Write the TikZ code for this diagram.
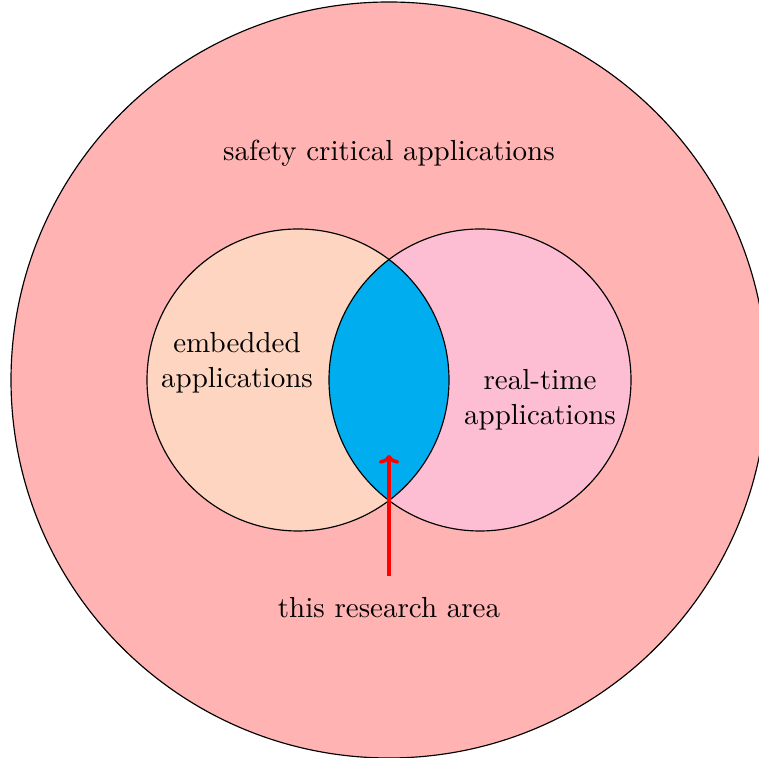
\documentclass[tikz,border=0pt]{standalone}
\usetikzlibrary{arrows.meta}
\definecolor{safetyfill}{RGB}{255,179,179}
\definecolor{embfill}{RGB}{253,213,192}
\definecolor{rtfill}{RGB}{253,189,211}
\definecolor{lensfill}{RGB}{0,174,239}
\tikzset{
  ring/.style={draw=black, line width=0.4pt},
  label/.style={align=center, font=\normalsize, inner sep=0pt},
  pointer/.style={draw=red, line width=1.2pt, -{To[length=3pt,width=7pt]}}
}
\begin{document}
\begin{tikzpicture}[x=0.3448pt, y=-0.3448pt]
  \useasboundingbox (0,0) rectangle (759,758);
  % outer domain
  \begin{scope}
    \clip (0,0) rectangle (759,758);
    \fill[safetyfill] (389,380) circle (378);
    \draw[ring] (389,380) circle (378);
  \end{scope}
  % the two overlapping application classes
  \fill[embfill] (298,380) circle (151);
  \fill[rtfill] (480,380) circle (151);
  \begin{scope}
    \clip (298,380) circle (151);
    \fill[lensfill] (480,380) circle (151);
  \end{scope}
  \draw[ring] (298,380) circle (151);
  \draw[ring] (480,380) circle (151);
  % labels
  \node[label] (safety) at (389,153) {safety critical applications};
  \node[label] (emb) at (237,363) {embedded\\applications};
  \node[label] (rt) at (540,400) {real-time\\applications};
  \node[label] (area) at (389,608) {this research area};
  % pointer into the overlap
  \coordinate (tail) at (389,576);
  \coordinate (tip) at (389,455);
  \draw[pointer] (tail) -- (tip);
\end{tikzpicture}
\end{document}
